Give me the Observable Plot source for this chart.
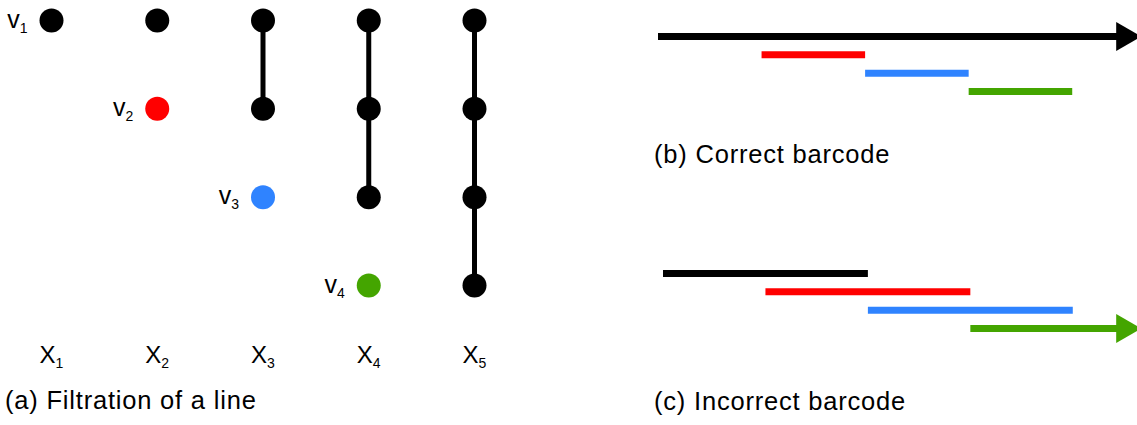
<!DOCTYPE html>
<html>
<head>
<meta charset="utf-8">
<script src="https://cdn.jsdelivr.net/npm/d3@7"></script>
<script src="https://cdn.jsdelivr.net/npm/@observablehq/plot@0.6"></script>
<style>
  body { margin: 0; background: #fff; }
  #fig { position: relative; width: 1137px; height: 425px; overflow: hidden;
         font-family: "Liberation Sans", Arial, sans-serif; color: #000; }
  #fig svg { position: absolute; }
  .caption { position: absolute; font-size: 25.5px; line-height: 25px; letter-spacing: 0.8px; white-space: nowrap; }
</style>
</head>
<body>
<div id="fig"></div>
<script>
// Filtration of a line: columns X_1..X_5, vertices v_1..v_4
const columns = [1, 2, 3, 4, 5];
const vertices = [1, 2, 3, 4];
const vertexBirth = [1, 2, 3, 4];            // v_k enters at X_k
const edgeFrom = [1, 2, 3];                  // edge v_k – v_{k+1}
const edgeBirth = [3, 4, 5];                 // the edge enters at this column
const vertexColors = ["#000000", "#ff0000", "#2f83ff", "#44a500"];
const oldColor = "#000000";

// Barcodes: birth / death per bar, null death = the bar never dies
const barColors = ["#000000", "#ff0000", "#2f83ff", "#44a500"];
const correctBirth = [0, 1, 2, 3];
const correctDeath = [null, 2, 3, 4];
const incorrectBirth = [0, 1, 2, 3];
const incorrectDeath = [2, 3, 4, null];
const horizon = 4.5;   // bars that never die run out to here and end in an arrow

const captions = ["(a) Filtration of a line", "(b) Correct barcode", "(c) Incorrect barcode"];

const font = "Liberation Sans, Arial, sans-serif";
const fig = document.getElementById("fig");

// turn "X1" / "v1" text into a letter with a subscript digit
function subscripts(svg) {
  d3.select(svg).selectAll("text").each(function () {
    const m = /^([A-Za-z])(\d+)$/.exec(this.textContent);
    if (!m) return;
    const t = d3.select(this);
    t.text(null);
    t.append("tspan").text(m[1]);
    t.append("tspan").attr("dy", 5).attr("font-size", 14).text(m[2]);
  });
  return svg;
}

// ---- panel (a) ----
const dotData = [];
const labelData = [];
const edgeData = [];
for (const c of columns) {
  vertices.forEach((v, i) => {
    if (vertexBirth[i] > c) return;
    const isNew = vertexBirth[i] === c;
    dotData.push({col: c, row: v, color: isNew ? vertexColors[i] : oldColor});
    if (isNew) labelData.push({col: c, row: v, label: "v" + v});
  });
  edgeFrom.forEach((v, i) => {
    if (edgeBirth[i] <= c) edgeData.push({col: c, from: v, to: v + 1});
  });
}

const filtration = Plot.plot({
  width: 560,
  height: 380,
  marginTop: 20,
  marginBottom: 95,
  marginLeft: 0,
  marginRight: 0,
  x: {domain: [1, 5], range: [51, 474], label: null},
  y: {domain: [1, 4], range: [20, 285], axis: null},
  color: {type: "identity"},
  style: {fontFamily: font, background: "transparent", color: "#000"},
  marks: [
    Plot.ruleX(edgeData, {x: "col", y1: "from", y2: "to", stroke: "#000", strokeWidth: 5}),
    Plot.dot(dotData, {x: "col", y: "row", r: 12, fill: "color"}),
    Plot.text(labelData, {x: "col", y: "row", text: "label", textAnchor: "end", dx: -24, dy: -1, fontSize: 25, fill: "#000"}),
    Plot.axisX({ticks: columns, tickFormat: c => "X" + c, tickSize: 0, tickPadding: 60, fontSize: 24, label: null})
  ]
});
subscripts(filtration);
filtration.style.left = "0px";
filtration.style.top = "0px";
fig.appendChild(filtration);

// ---- panels (b) and (c) ----
function barcode(births, deaths, xRange) {
  const bars = births.map((b, i) => ({
    bar: i,
    birth: b,
    death: deaths[i] == null ? horizon : deaths[i],
    open: deaths[i] == null,
    color: barColors[i]
  }));
  return Plot.plot({
    width: 497,
    height: 110,
    margin: 0,
    x: {domain: [0, horizon], range: xRange, axis: null},
    y: {domain: [0, 3], range: [36, 91], axis: null},
    color: {type: "identity"},
    style: {background: "transparent"},
    marks: [
      Plot.ruleY(bars, {y: "bar", x1: "birth", x2: "death", stroke: "color", strokeWidth: 7}),
      Plot.dot(bars.filter(d => d.open), {x: "death", y: "bar", symbol: "triangle", r: 10.7, fill: "color", rotate: 90})
    ]
  });
}

const correct = barcode(correctBirth, correctDeath, [18, 484]);
correct.style.left = "640px";
correct.style.top = "0px";
fig.appendChild(correct);

const incorrect = barcode(incorrectBirth, incorrectDeath, [23, 484]);
incorrect.style.left = "640px";
incorrect.style.top = "237px";
fig.appendChild(incorrect);

// ---- captions ----
const captionPos = [[5, 388], [654, 142], [654, 389]];
captions.forEach((text, i) => {
  const div = document.createElement("div");
  div.className = "caption";
  div.textContent = text;
  div.style.left = captionPos[i][0] + "px";
  div.style.top = captionPos[i][1] + "px";
  fig.appendChild(div);
});
</script>
</body>
</html>
